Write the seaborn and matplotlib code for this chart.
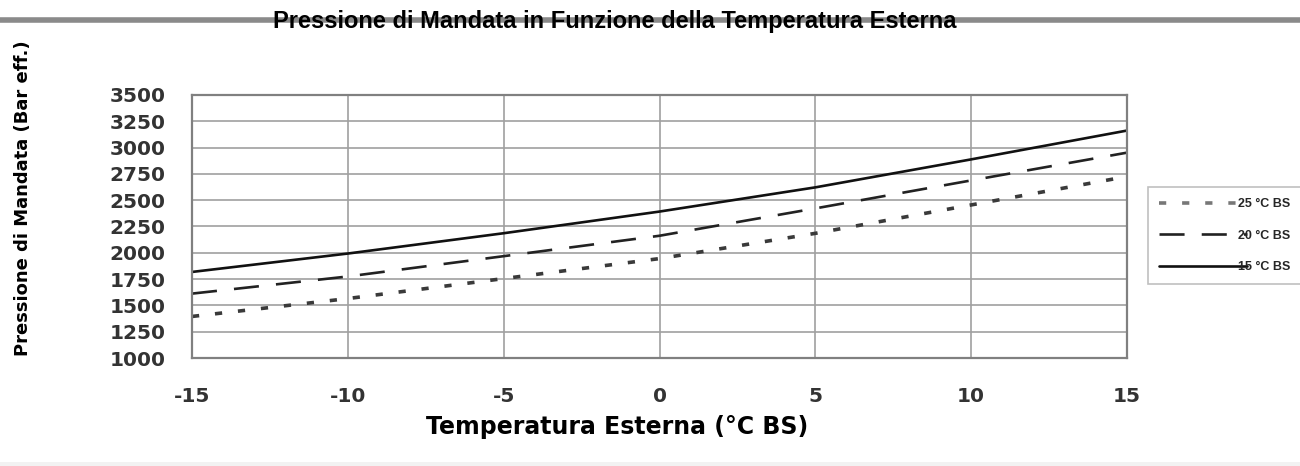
import pandas as pd
import matplotlib.pyplot as plt
import seaborn as sns
from matplotlib.lines import Line2D
from matplotlib.patches import Rectangle

sns.set_theme(style='whitegrid')
plt.rcParams['font.family'] = ['DejaVu Sans']
plt.rcParams['axes.unicode_minus'] = False

# values
temperature = [-15, -10, -5, 0, 5, 10, 15]
press_25 = [1395, 1565, 1755, 1945, 2185, 2455, 2725]
press_20 = [1612, 1775, 1968, 2162, 2422, 2688, 2952]
press_15 = [1818, 1993, 2186, 2392, 2622, 2888, 3162]
series_labels = ['25 °C BS', '20 °C BS', '15 °C BS']
y_ticks = list(range(1000, 3501, 250))
x_ticks = list(range(-15, 16, 5))

fig = plt.figure(figsize=(13, 4.66), dpi=100)
ax = fig.add_axes([192 / 1300, 1 - 358 / 466, 935 / 1300, 263 / 466])

styles = [
    (press_25, '#3a3a3a', 2.6, (0, (2.0, 4.4))),
    (press_20, '#222222', 1.9, (0, (9.5, 6.5))),
    (press_15, '#111111', 1.9, '-'),
]
for label, (vals, col, lw, ls) in zip(series_labels, styles):
    df = pd.DataFrame({'temp': temperature, 'press': vals})
    sns.lineplot(data=df, x='temp', y='press', ax=ax, color=col,
                 linewidth=lw, linestyle=ls, label=label)

ax.set_xlim(-15, 15)
ax.set_ylim(1000, 3500)
ax.set_xticks(x_ticks)
ax.set_yticks(y_ticks)
ax.grid(True, color='#a0a0a0', linewidth=1.2)
for s in ax.spines.values():
    s.set_color('#808080')
    s.set_linewidth(1.6)

ax.tick_params(axis='y', length=5, width=1.2, color='#999999', pad=14,
               labelsize=14.5, labelcolor='#333333')
ax.tick_params(axis='x', length=4, width=1.2, color='#999999', pad=17,
               labelsize=14.5, labelcolor='#333333')
for t in ax.get_xticklabels() + ax.get_yticklabels():
    t.set_fontweight('bold')

ax.set_xlabel('Temperatura Esterna (°C BS)', fontsize=17, fontweight='bold', color='black')
ax.xaxis.set_label_coords((617 - 192) / 935, (358 - 415) / 263)
ax.set_ylabel('Pressione di Mandata (Bar eff.)', fontsize=13, fontweight='bold', color='black')
ax.yaxis.label.set_va('center')
ax.yaxis.set_label_coords((23 - 192) / 935, (358 - 198) / 263)

leg = ax.legend(loc='upper left', bbox_to_anchor=(1148 / 1300, 1 - 187 / 466),
                bbox_transform=fig.transFigure, frameon=True, fancybox=False,
                edgecolor='#b0b0b0', fontsize=9, handlelength=7.0,
                handletextpad=-0.7, labelspacing=1.55, borderpad=0.9,
                borderaxespad=0)
leg.get_frame().set_linewidth(1.2)
leg.get_lines()[0].set_color('#777777')
for t in leg.get_texts():
    t.set_fontweight('bold')
    t.set_family(['Liberation Sans Narrow', 'Liberation Sans'])

# decorative header rule and title
fig.add_artist(Line2D([0, 1], [1 - 20 / 466] * 2, transform=fig.transFigure,
                      color='#8a8a8a', linewidth=4.0, zorder=0))
fig.text(615 / 1300, 1 - 28 / 466, 'Pressione di Mandata in Funzione della Temperatura Esterna',
         ha='center', va='baseline', fontsize=17, fontweight='bold', color='black',
         family=['Liberation Sans Narrow', 'Liberation Sans'], zorder=2)
fig.patches.append(Rectangle((0, 0), 1, 4 / 466, transform=fig.transFigure,
                             facecolor='#f2f2f2', edgecolor='none'))

fig.savefig('out.png', dpi=100)
